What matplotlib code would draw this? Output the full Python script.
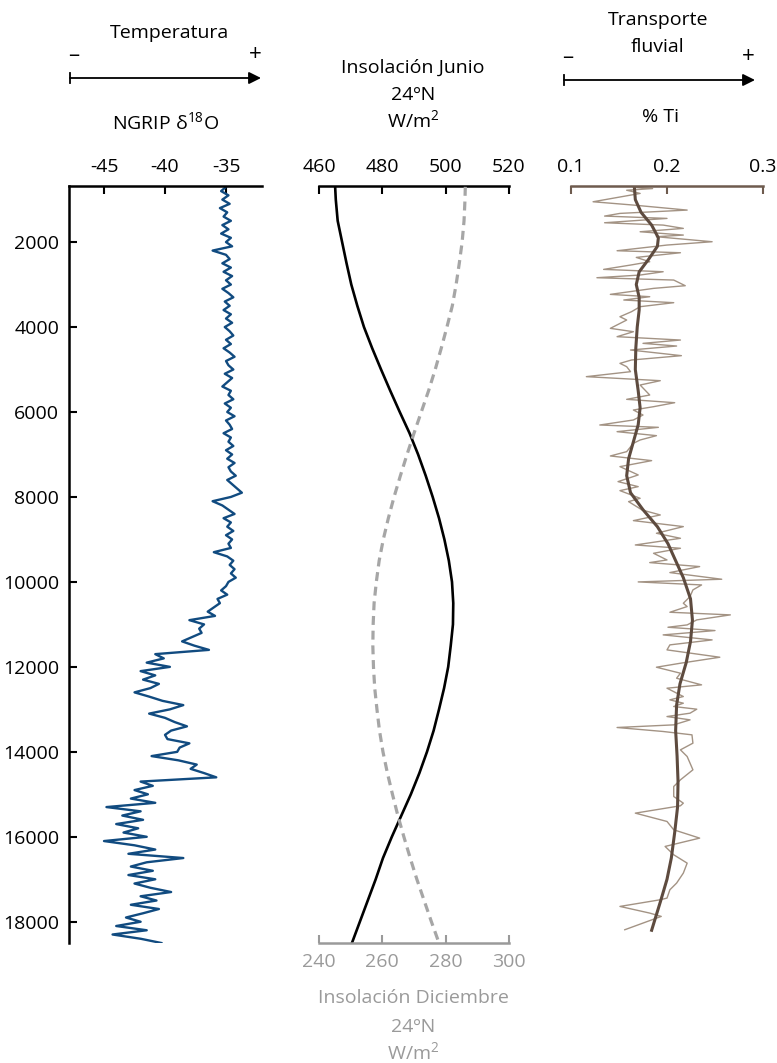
import matplotlib
matplotlib.use("Agg")
import matplotlib.pyplot as plt
from matplotlib.lines import Line2D
from matplotlib.patches import FancyArrowPatch

plt.rcParams["font.family"] = ["Open Sans", "DejaVu Sans"]
plt.rcParams["mathtext.default"] = "regular"
plt.rcParams["axes.unicode_minus"] = False

# --- NGRIP d18O, one value every 100 yr from 700 to 18500 ---
ngrip_age = list(range(700, 18600, 100))
ngrip_d18o = [
    -35.0, -35.4, -34.8, -35.3, -34.7, -35.5, -34.9, -35.2, -34.6, -35.3,
    -34.8, -35.4, -34.6, -35.0, -34.5, -36.1, -35.0, -34.7, -35.3, -34.6,
    -35.2, -34.5, -35.0, -34.6, -35.3, -34.8, -34.4, -35.1, -34.7, -35.2,
    -34.6, -35.0, -34.5, -35.1, -34.7, -34.4, -35.0, -34.6, -35.2, -34.7,
    -34.3, -35.0, -34.8, -34.4, -35.1, -34.5, -34.9, -35.3, -34.6, -34.8,
    -34.4, -35.1, -34.6, -34.9, -34.3, -35.0, -34.7, -34.5, -35.2, -34.6,
    -34.8, -34.4, -35.0, -34.5, -34.9, -34.3, -34.8, -34.6, -34.2, -34.9,
    -34.5, -34.1, -33.7, -34.6, -36.1, -35.3, -34.8, -34.3, -35.2, -34.6,
    -34.9, -34.4, -35.0, -34.5, -34.8, -34.6, -36.0, -34.9, -34.4, -34.7,
    -34.3, -34.6, -34.2, -34.8, -35.0, -35.4, -34.9, -35.7, -35.5, -36.0,
    -36.5, -35.9, -38.0, -36.8, -37.2, -37.0, -37.8, -38.6, -37.6, -36.4,
    -40.8, -40.1, -41.5, -39.6, -42.0, -40.8, -41.8, -40.5, -41.2, -42.5,
    -41.3, -40.2, -38.5, -39.6, -41.3, -40.0, -39.2, -38.2, -39.5, -40.0,
    -39.8, -38.0, -38.8, -39.0, -41.1, -38.9, -37.4, -37.9, -36.8, -35.8,
    -42.0, -41.0, -42.5, -41.4, -42.8, -40.8, -44.8, -42.0, -43.5, -41.8,
    -44.0, -42.2, -43.4, -41.5, -45.0, -42.5, -40.8, -43.0, -38.5, -41.5,
    -42.8, -41.0, -43.0, -40.8, -42.5, -41.2, -39.5, -42.0, -40.7, -42.8,
    -40.5, -41.8, -43.2, -42.0, -44.0, -41.5, -44.3, -42.0, -40.3,
]

# --- Insolation 24N (W/m2) ---
ins_age = [700, 1000, 1500, 2000, 2500, 3000, 3500, 4000, 4500, 5000,
           5500, 6000, 6500, 7000, 7500, 8000, 8500, 9000, 9500, 10000,
           10500, 11000, 11500, 12000, 12500, 13000, 13500, 14000, 14500,
           15000, 15500, 16000, 16500, 17000, 17500, 18000, 18500]
ins_june = [465.1, 465.3, 465.9, 467.3, 468.7, 470.2, 472.1, 474.2, 476.8,
            479.6, 482.5, 485.5, 488.6, 491.3, 493.7, 495.9, 497.9, 499.6,
            501.0, 502.0, 502.4, 502.3, 501.6, 500.8, 499.5, 497.9, 496.2,
            494.1, 491.7, 489.0, 486.0, 483.0, 480.2, 477.9, 475.4, 472.9,
            470.4]
ins_dec = [286.2, 286.1, 285.8, 285.2, 284.3, 283.3, 282.1, 280.4, 278.6,
           276.7, 274.6, 272.3, 270.0, 267.8, 265.7, 263.7, 261.9, 260.3,
           259.0, 258.1, 257.4, 257.1, 257.0, 257.2, 257.6, 258.3, 259.1,
           260.2, 261.6, 263.2, 264.9, 266.8, 268.8, 270.9, 273.2, 275.5,
           277.9]

# --- % Ti raw ---
ti_age = [710, 740, 780, 816, 855, 1051, 1129, 1247, 1325, 1388, 1443, 1545,
          1600, 1678, 1757, 1835, 1874, 1992, 2070, 2204, 2251, 2361, 2463,
          2541, 2643, 2698, 2776, 2839, 2894, 3027, 3090, 3231, 3286, 3364,
          3427, 3482, 3521, 3639, 3757, 3835, 4031, 4110, 4227, 4306, 4384,
          4447, 4541, 4674, 4776, 4855, 4933, 5051, 5168, 5263, 5365, 5600,
          5702, 5781, 5875, 5953, 6071, 6188, 6306, 6361, 6463, 6557, 6659,
          6737, 6933, 7035, 7145, 7286, 7482, 7639, 7757, 7851, 8032, 8110,
          8306, 8424, 8557, 8698, 8855, 8973, 9130, 9208, 9326, 9483, 9545,
          9639, 9780, 9937, 10000, 10071, 10188, 10345, 10502, 10580, 10714,
          10776, 10894, 11012, 11067, 11145, 11247, 11365, 11482, 11600,
          11773, 11914, 12008, 12149, 12267, 12423, 12502, 12698, 12776,
          12855, 12933, 12996, 13090, 13169, 13247, 13365, 13427, 13521,
          13600, 13796, 13953, 14110, 14423, 14659, 14816, 15051, 15208,
          15270, 15443, 15639, 15835, 16031, 16227, 16423, 16620, 16855,
          17090, 17247, 17443, 17482, 17639, 17796, 17874, 18031, 18188]
ti_val = [0.165, 0.185, 0.158, 0.165, 0.172, 0.123, 0.165, 0.221, 0.151,
          0.135, 0.200, 0.135, 0.196, 0.217, 0.172, 0.217, 0.189, 0.247,
          0.200, 0.148, 0.214, 0.168, 0.182, 0.162, 0.134, 0.196, 0.172,
          0.127, 0.207, 0.219, 0.186, 0.141, 0.182, 0.155, 0.207, 0.186,
          0.172, 0.163, 0.151, 0.158, 0.141, 0.165, 0.148, 0.214, 0.175,
          0.210, 0.162, 0.215, 0.163, 0.151, 0.158, 0.162, 0.116, 0.193,
          0.172, 0.182, 0.158, 0.208, 0.186, 0.165, 0.175, 0.165, 0.130,
          0.191, 0.148, 0.189, 0.172, 0.165, 0.158, 0.141, 0.184, 0.151,
          0.170, 0.149, 0.170, 0.151, 0.172, 0.160, 0.174, 0.193, 0.165,
          0.217, 0.189, 0.214, 0.167, 0.214, 0.186, 0.200, 0.182, 0.234,
          0.203, 0.257, 0.170, 0.236, 0.227, 0.224, 0.217, 0.221, 0.203,
          0.266, 0.231, 0.221, 0.201, 0.250, 0.196, 0.247, 0.203, 0.200,
          0.255, 0.214, 0.189, 0.214, 0.210, 0.236, 0.200, 0.217, 0.203,
          0.217, 0.207, 0.231, 0.224, 0.200, 0.224, 0.207, 0.148, 0.196,
          0.226, 0.227, 0.214, 0.221, 0.227, 0.214, 0.207, 0.207, 0.217,
          0.214, 0.167, 0.200, 0.207, 0.234, 0.198, 0.207, 0.221, 0.217,
          0.210, 0.203, 0.200, 0.193, 0.151, 0.182, 0.194, 0.175, 0.156]

# --- % Ti smoothed ---
ti_smooth_age = [700, 1000, 1300, 1600, 1900, 2100, 2400, 2700, 3000, 3300,
                 3600, 4000, 4500, 5000, 5500, 5900, 6300, 6700, 7100, 7500,
                 7900, 8300, 8700, 9100, 9500, 9900, 10400, 10900, 11400,
                 11900, 12400, 12900, 13500, 14100, 14700, 15300, 15900,
                 16500, 17000, 17500, 18200]
ti_smooth_val = [0.166, 0.167, 0.173, 0.184, 0.191, 0.190, 0.181, 0.171,
                 0.168, 0.171, 0.171, 0.169, 0.1675, 0.167, 0.170, 0.172,
                 0.170, 0.165, 0.160, 0.158, 0.162, 0.175, 0.190, 0.201,
                 0.209, 0.217, 0.2245, 0.2265, 0.2245, 0.220, 0.2135, 0.210,
                 0.209, 0.2105, 0.2115, 0.211, 0.208, 0.2045, 0.200, 0.1935,
                 0.184]

W, H = 777, 1063
FS = 14
GRAY = "#9a9a9a"
BROWN = "#6e5b4e"


def fx(px):
    return px / W


def fy(py):
    return 1 - py / H


fig = plt.figure(figsize=(W / 100, H / 100), dpi=100)
bottom, top = fy(943), fy(186)


def panel(x0, x1):
    return fig.add_axes([fx(x0), bottom, fx(x1) - fx(x0), top - bottom])


def style_top(ax, color="black"):
    ax.xaxis.tick_top()
    ax.tick_params(axis="x", direction="in", length=6, width=1.5,
                   color=color, labelsize=FS, pad=7, labelcolor="black")
    ax.spines["top"].set_visible(True)
    ax.spines["top"].set_color(color)
    ax.spines["top"].set_linewidth(1.8)
    for s in ("right", "bottom"):
        ax.spines[s].set_visible(False)


# left: NGRIP
ax1 = panel(69, 262)
ax1.plot(ngrip_d18o, ngrip_age, color="#114b80", lw=1.7)
ax1.set_xlim(-47.87, -32.05)
ax1.set_ylim(18500, 680)
ax1.set_xticks([-45, -40, -35])
ax1.set_yticks(range(2000, 18001, 2000))
style_top(ax1)
ax1.spines["left"].set_linewidth(1.8)
ax1.tick_params(axis="y", direction="in", length=6, width=1.5,
                labelsize=FS, pad=7)

# middle: insolation (June on top axis, December on bottom axis)
ax2 = panel(319, 509)
ax3 = ax2.twiny()
ax2.plot(ins_june, ins_age, color="black", lw=1.9)
ax2.set_xlim(460, 520)
ax2.set_ylim(18500, 680)
ax2.set_xticks([460, 480, 500, 520])
ax2.set_yticks([])
style_top(ax2)
ax2.spines["left"].set_visible(False)

ax3.plot(ins_dec, ins_age, color="#a6a6a6", lw=2.3,
         linestyle=(0, (2.8, 1.8)))
ax3.set_xlim(240, 300)
ax3.set_ylim(18500, 680)
ax3.xaxis.tick_bottom()
ax3.set_xticks([240, 260, 280, 300])
ax3.tick_params(axis="x", direction="in", length=6, width=1.5, color=GRAY,
                labelcolor=GRAY, labelsize=FS, pad=7)
ax3.spines["bottom"].set_visible(True)
ax3.spines["bottom"].set_color(GRAY)
ax3.spines["bottom"].set_linewidth(1.8)
for s in ("top", "left", "right"):
    ax3.spines[s].set_visible(False)

# right: % Ti
ax4 = panel(571, 763)
ax4.plot(ti_val, ti_age, color="#a39384", lw=1.0)
ax4.plot(ti_smooth_val, ti_smooth_age, color="#5e4b3f", lw=2.2)
ax4.set_xlim(0.1, 0.3)
ax4.set_ylim(18500, 680)
ax4.set_xticks([0.1, 0.2, 0.3])
ax4.set_xticklabels(["0.1", "0.2", "0.3"])
ax4.set_yticks([])
style_top(ax4, BROWN)
ax4.spines["left"].set_visible(False)


def label(px, py, s, color="black", size=FS):
    fig.text(fx(px), fy(py), s, ha="center", va="center", color=color,
             fontsize=size)


def arrow(x0, x1, py):
    fig.add_artist(FancyArrowPatch((fx(x0), fy(py)), (fx(x1), fy(py)),
                                   transform=fig.transFigure,
                                   arrowstyle="-|>", mutation_scale=18,
                                   lw=1.3, color="black",
                                   shrinkA=0, shrinkB=0))
    fig.add_artist(Line2D([fx(x0), fx(x0)], [fy(py - 5), fy(py + 5)],
                          transform=fig.transFigure, color="black", lw=1.3))


label(170, 33, "Temperatura")
label(74, 56, "–", size=16)
label(255, 55, "+", size=16)
arrow(70, 261, 78)
label(166, 122, "NGRIP δ$^{18}$O")

label(413, 68, "Insolación Junio")
label(413, 95, "24ºN")
label(413, 120, "W/m$^2$")

label(413, 998, "Insolación Diciembre", color=GRAY)
label(413, 1027, "24ºN", color=GRAY)
label(413, 1052, "W/m$^2$", color=GRAY)

label(658, 20, "Transporte")
label(658, 47, "fluvial")
label(568, 58, "–", size=16)
label(748, 57, "+", size=16)
arrow(564, 755, 80)
label(660, 117, "% Ti")

fig.savefig("out.png", dpi=100)
